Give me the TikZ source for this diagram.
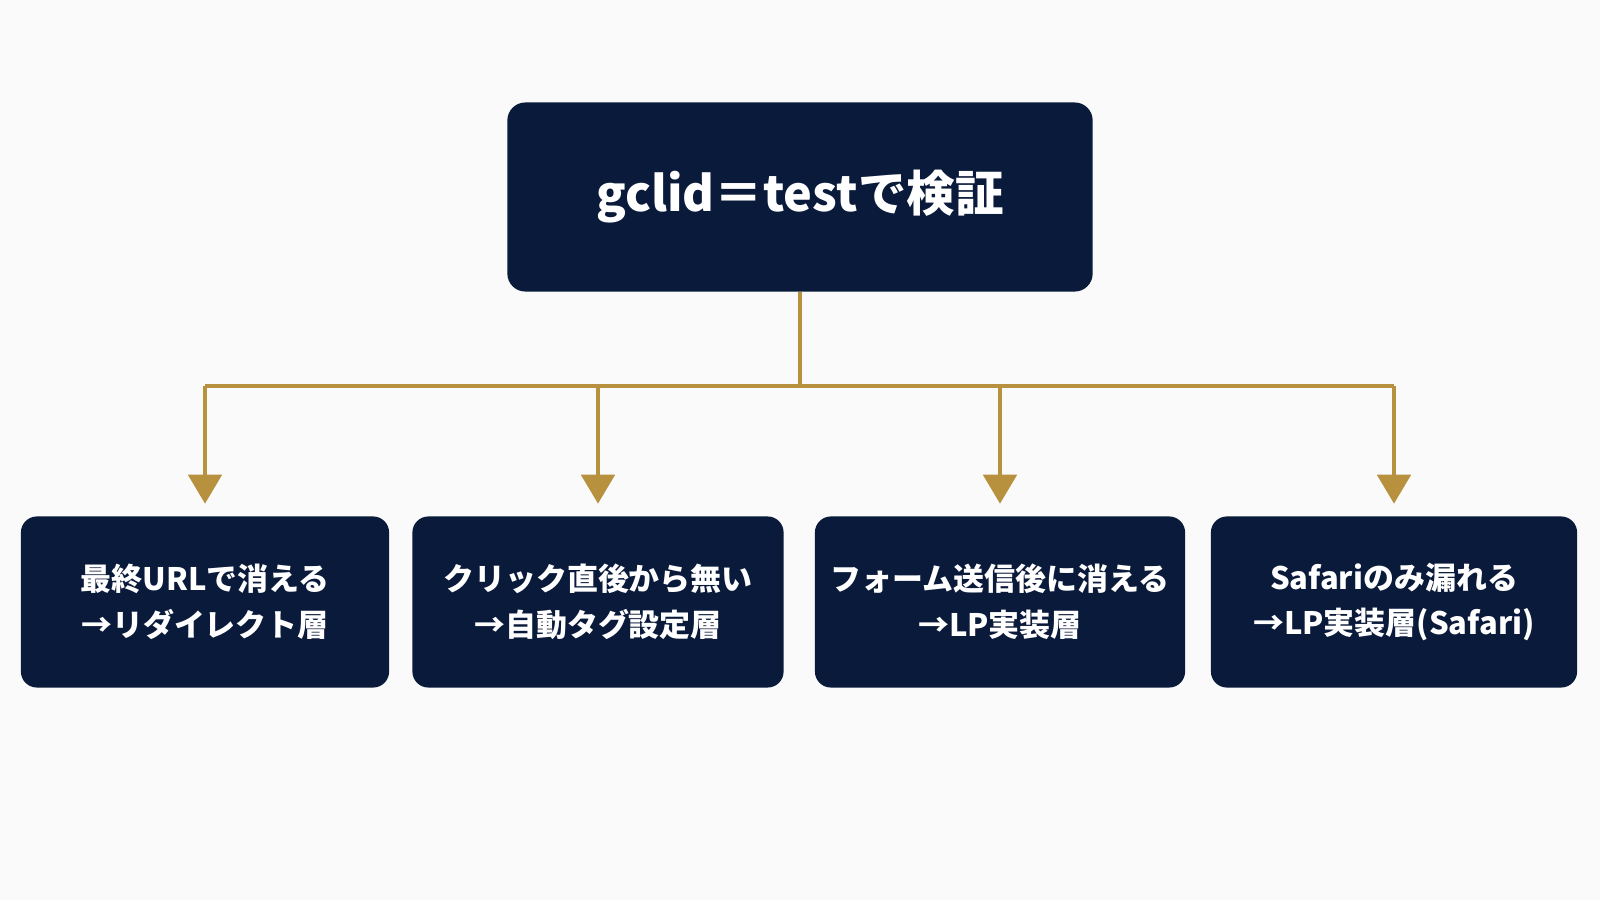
\documentclass[tikz,border=0pt]{standalone}
\usepackage{fontspec}
\setmainfont{Noto Sans CJK JP}
\usetikzlibrary{arrows.meta,positioning}
\definecolor{deepnavy}{HTML}{0A1A3B}
\definecolor{ochre}{HTML}{B8913F}
\definecolor{paper}{HTML}{FAFAFA}
\tikzset{%
  headbox/.style={fill=deepnavy, rounded corners=0.18cm, minimum width=5.85cm,
    minimum height=1.89cm, text=white, font=\fontsize{13.8}{16}\selectfont\bfseries},
  layerbox/.style={fill=deepnavy, rounded corners=0.16cm, minimum width=3.68cm,
    minimum height=1.71cm, text=white, align=center,
    font=\fontsize{8.8}{13}\selectfont\bfseries},
  feed/.style={ochre, line width=1.4pt},
}

\begin{document}
\begin{tikzpicture}[x=0.01cm,y=-0.01cm]
      \fill [paper] (0,0) rectangle (1600,900);
      \useasboundingbox (0,0) rectangle (1600,900);

      \node [headbox] (check) at (800,197) {gclid＝testで検証};

      \node [layerbox] (redirect) at (205,602) {最終URLで消える\\→リダイレクト層};
      \node [layerbox, minimum width=3.71cm] (autotag) at (598,602) {クリック直後から無い\\→自動タグ設定層};
      \node [layerbox, minimum width=3.70cm] (lpform) at (1000,602) {フォーム送信後に消える\\→LP実装層};
      \node [layerbox, minimum width=3.66cm] (safari) at (1394,602) {Safariのみ漏れる\\→LP実装層(Safari)};

      \coordinate (hub) at (800,386);
      \draw [feed] (check.south) -- (hub);
      \draw [feed] (redirect.north |- hub) -- (safari.north |- hub);
      \foreach \layer in {redirect,autotag,lpform,safari}
      {
        \draw [feed, -{Triangle[width=0.33cm,length=0.29cm]}, shorten >=0.12cm]
          (\layer.north |- hub) -- (\layer.north);
      }
    \end{tikzpicture}
\end{document}
